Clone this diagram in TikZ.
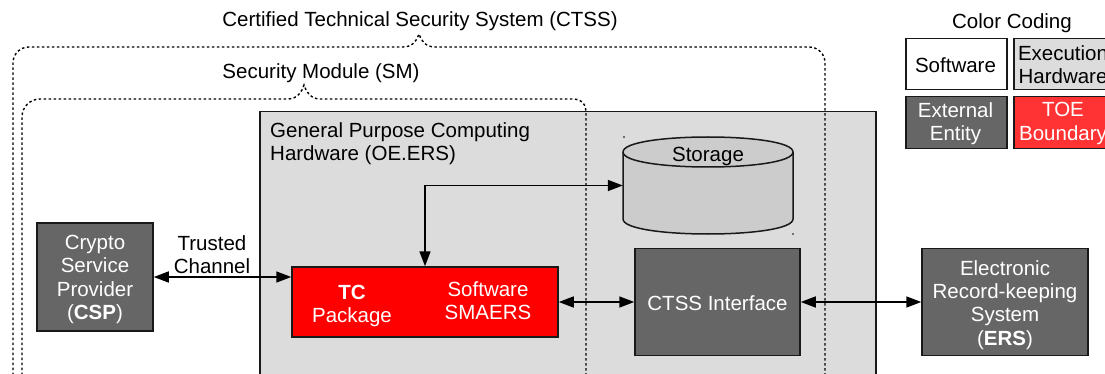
\documentclass[tikz,border=0pt]{standalone}
\usepackage{fontspec}
\setmainfont{Liberation Sans}
\usetikzlibrary{arrows.meta}
\definecolor{extgray}{HTML}{666666}
\definecolor{hwgray}{HTML}{DCDCDC}
\definecolor{stgray}{HTML}{CCCCCC}
\definecolor{tcred}{HTML}{FF0000}
\definecolor{toered}{HTML}{FF3333}
\tikzset{
  txt/.style={font=\fontsize{20.5}{23.2}\selectfont, align=center, inner sep=0pt},
  boxbase/.style={draw=black!90, line width=1.5pt, inner sep=0pt, font=\fontsize{20.5}{23.2}\selectfont, align=center},
  ext/.style={boxbase, fill=extgray, text=white},
  hwbox/.style={boxbase, fill=hwgray},
  swbox/.style={boxbase, fill=white},
  toebox/.style={boxbase, fill=toered, text=white},
  tcbox/.style={boxbase, fill=tcred},
  conn/.style={draw=black, line width=1.6pt, {Triangle[length=15pt,width=11pt]}-{Triangle[length=15pt,width=11pt]}},
  brace/.style={draw=black, line width=1.4pt, dash pattern=on 2.5pt off 2.5pt},
}
\begin{document}
\begin{tikzpicture}[x=1pt,y=-1pt]
\useasboundingbox (0,0) rectangle (1105,374);
\clip (0,0) rectangle (1105,374);
% General purpose computing hardware
\node[hwbox, minimum width=616pt, minimum height=290pt, anchor=north west] (gpc) at (259,111) {};
\node[txt, anchor=west, align=left] (gpctext) at (270,143.5) {General Purpose Computing\\Hardware (OE.ERS)};
% braces
\draw[brace] (13,390) -- (13,63) .. controls (13,54) and (20,47) .. (29,47) -- (403,47)
  .. controls (412,47) and (417,41) .. (419,34) .. controls (421,41) and (426,47) .. (435,47)
  -- (809,47) .. controls (818,47) and (825,54) .. (825,63) -- (825,390);
\draw[brace] (22,390) -- (22,117) .. controls (22,107) and (30,99) .. (40,99) -- (288,99)
  .. controls (297,99) and (302,92) .. (304,85) .. controls (306,92) and (311,99) .. (320,99)
  -- (574,99) .. controls (581,99) and (586,104) .. (586,111) -- (586,390);
\node[txt] (ctsstitle) at (420,21) {Certified Technical Security System (CTSS)};
\node[txt] (smtitle) at (321,73) {Security Module (SM)};
% storage cylinder
\draw[line width=1.5pt, draw=black!90, fill=stgray] (623,152) -- (623,219) .. controls (623,239) and (793,239) .. (793,219)
  -- (793,152) .. controls (793,132) and (623,132) .. (623,152) -- cycle;
\draw[line width=1.5pt, draw=black!90] (623,152) .. controls (623,172) and (793,172) .. (793,152);
\node[inner sep=0pt, minimum width=170pt, minimum height=97pt] (storage) at (708,185.5) {};
\node[txt] (storagetext) at (708,156) {Storage};
\fill[black] (624,137) circle (0.8pt);
\fill[black] (793,234) circle (0.8pt);
% boxes
\node[ext, minimum width=116pt, minimum height=108pt] (csp) at (95,277) {};
\node[txt, text=white] (csptext) at (95,279.5) {Crypto\\Service\\Provider\\(\textbf{CSP})};
\node[tcbox, minimum width=266pt, minimum height=70pt] (tc) at (425,302) {};
\node[txt, text=white] (tctext) at (352,306) {\textbf{TC}\\Package};
\node[txt, text=white] (smaers) at (488,301) {Software\\SMAERS};
\node[ext, minimum width=165pt, minimum height=107pt] (ctssif) at (717.5,302) {};
\node[txt, text=white] (ctssiftext) at (717.5,303) {CTSS Interface};
\node[ext, minimum width=166pt, minimum height=107pt] (ers) at (1005,302) {};
\node[txt, text=white] (erstext) at (1005,305) {Electronic\\Record-keeping\\System\\(\textbf{ERS})};
% connectors
\draw[conn] (csp.east) -- (csp.east -| tc.west);
\node[txt] (trusted) at (212,255) {Trusted\\Channel};
\draw[conn] (tc.east) -- (ctssif.west);
\draw[conn] (ctssif.east) -- (ers.west);
\draw[conn] (storage.west) -| (tc.north);
% legend
\node[txt] (legtitle) at (1012,23) {Color Coding};
\node[swbox, minimum width=101pt, minimum height=51pt, anchor=north west] (legsw) at (905,38) {};
\node[txt] (legswtext) at (955.5,65) {Software};
\node[hwbox, minimum width=100pt, minimum height=51pt, anchor=north west] (leghw) at (1013,38) {};
\node[txt] (leghwtext) at (1063,64.5) {Execution\\Hardware};
\node[ext, minimum width=101pt, minimum height=52pt, anchor=north west] (legext) at (905,96) {};
\node[txt, text=white] (legexttext) at (955.5,123.5) {External\\Entity};
\node[toebox, minimum width=100pt, minimum height=52pt, anchor=north west] (legtoe) at (1013,96) {};
\node[txt, text=white] (legtoetext) at (1063,123.5) {TOE\\Boundary};
\end{tikzpicture}
\end{document}
